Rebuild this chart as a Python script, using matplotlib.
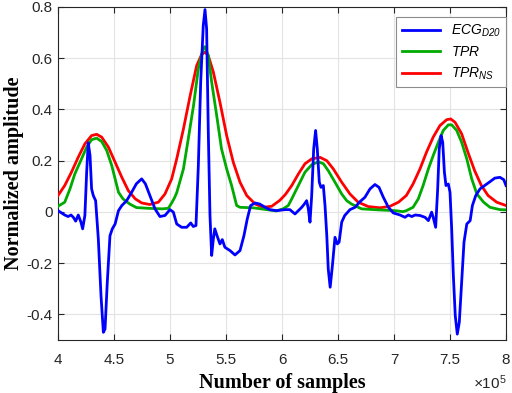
import numpy as np
import matplotlib
matplotlib.use("Agg")
import matplotlib.pyplot as plt
from matplotlib.ticker import FuncFormatter

plt.rcParams['font.family'] = ['Liberation Sans', 'DejaVu Sans']
plt.rcParams['mathtext.fontset'] = 'custom'
plt.rcParams['mathtext.it'] = 'Liberation Sans:italic'
plt.rcParams['mathtext.rm'] = 'Liberation Sans:italic'
plt.rcParams['mathtext.default'] = 'it'

# ====== data (x in units of 1e5 samples) ======
ecg_x = [4.00, 4.06, 4.09, 4.116, 4.137, 4.158, 4.181, 4.205, 4.22, 4.24, 4.256, 4.27,
         4.286, 4.30, 4.315, 4.336, 4.36, 4.384, 4.405, 4.42, 4.44, 4.464, 4.485, 4.51,
         4.54, 4.57, 4.613, 4.658, 4.70, 4.747, 4.78, 4.82, 4.866, 4.91, 4.955, 5.0,
         5.03, 5.06, 5.104, 5.149, 5.185, 5.208, 5.232, 5.253, 5.274, 5.297, 5.3125,
         5.327, 5.342, 5.357, 5.372, 5.387, 5.40, 5.42, 5.446, 5.467, 5.49, 5.536, 5.58,
         5.625, 5.66, 5.69, 5.72, 5.76, 5.80, 5.85, 5.89, 5.95, 6.03, 6.07, 6.116, 6.146,
         6.176, 6.20, 6.22, 6.235, 6.25, 6.265, 6.283, 6.30, 6.315, 6.333, 6.348, 6.369,
         6.384, 6.40, 6.413, 6.43, 6.45, 6.473, 6.494, 6.51, 6.533, 6.56, 6.607, 6.652,
         6.696, 6.74, 6.786, 6.83, 6.866, 6.905, 6.95, 6.994, 7.054, 7.098, 7.128, 7.158,
         7.19, 7.232, 7.277, 7.307, 7.336, 7.35, 7.372, 7.39, 7.404, 7.42, 7.435, 7.45,
         7.464, 7.485, 7.50, 7.515, 7.53, 7.547, 7.565, 7.583, 7.604, 7.625, 7.65, 7.68,
         7.70, 7.73, 7.768, 7.81, 7.857, 7.90, 7.946, 7.98, 8.0]
ecg_y = [0.005, -0.012, -0.018, -0.012, -0.021, -0.036, -0.012, -0.04, -0.066, -0.014,
         0.156, 0.27, 0.22, 0.09, 0.064, 0.044, -0.105, -0.327, -0.47, -0.457, -0.275,
         -0.093, -0.066, -0.047, 0.005, 0.025, 0.044, 0.077, 0.11, 0.129, 0.11, 0.064,
         0.012, -0.018, -0.014, 0.009, -0.001, -0.047, -0.06, -0.06, -0.043, -0.057,
         -0.053, 0.18, 0.507, 0.728, 0.79, 0.715, 0.311, -0.014, -0.17, -0.105, -0.066,
         -0.093, -0.125, -0.108, -0.138, -0.151, -0.168, -0.151, -0.093, -0.027, 0.025,
         0.035, 0.031, 0.018, 0.009, 0.005, 0.009, 0.009, -0.008, 0.005, 0.018, 0.031,
         0.044, 0.012, -0.04, 0.064, 0.246, 0.318, 0.246, 0.116, 0.096, 0.103, 0.025,
         -0.093, -0.223, -0.294, -0.21, -0.099, -0.125, -0.118, -0.04, -0.014, 0.009,
         0.018, 0.04, 0.057, 0.09, 0.107, 0.096, 0.057, 0.018, -0.004, -0.012, -0.021,
         -0.012, -0.018, -0.012, -0.014, -0.021, -0.034, -0.001, -0.021, -0.06, 0.09,
         0.246, 0.298, 0.272, 0.155, 0.103, 0.109, 0.077, -0.066, -0.249, -0.405, -0.477,
         -0.431, -0.275, -0.118, -0.047, -0.034, 0.025, 0.064, 0.09, 0.103, 0.118, 0.132,
         0.135, 0.126, 0.103]

tpr_x = [4.00, 4.06, 4.107, 4.15, 4.21, 4.256, 4.30, 4.345, 4.39, 4.435, 4.48, 4.51, 4.54,
         4.58, 4.64, 4.70, 4.81, 4.93, 4.985, 5.015, 5.04, 5.06, 5.12, 5.163, 5.21, 5.253,
         5.297, 5.31, 5.342, 5.372, 5.417, 5.46, 5.506, 5.55, 5.595, 5.625, 5.744, 5.863,
         5.95, 6.01, 6.056, 6.087, 6.146, 6.205, 6.265, 6.324, 6.37, 6.413, 6.473, 6.533,
         6.578, 6.62, 6.71, 6.86, 7.01, 7.08, 7.11, 7.17, 7.217, 7.26, 7.307, 7.35, 7.396,
         7.44, 7.485, 7.515, 7.56, 7.604, 7.65, 7.694, 7.74, 7.80, 7.857, 7.946, 8.0]
tpr_y = [0.022, 0.038, 0.09, 0.148, 0.207, 0.253, 0.282, 0.288, 0.275, 0.24, 0.181, 0.129,
         0.077, 0.051, 0.031, 0.017, 0.014, 0.012, 0.014, 0.035, 0.055, 0.075, 0.168,
         0.285, 0.415, 0.559, 0.64, 0.645, 0.61, 0.507, 0.376, 0.246, 0.168, 0.103, 0.025,
         0.018, 0.016, 0.009, 0.004, 0.012, 0.025, 0.051, 0.103, 0.155, 0.184, 0.196, 0.188,
         0.161, 0.116, 0.07, 0.044, 0.031, 0.012, 0.008, 0.005, 0.001, 0.005, 0.018, 0.051,
         0.103, 0.168, 0.22, 0.272, 0.318, 0.34, 0.34, 0.318, 0.272, 0.207, 0.129, 0.07,
         0.038, 0.018, 0.009, 0.008]

tprns_x = [4.00, 4.06, 4.12, 4.18, 4.24, 4.30, 4.345, 4.39, 4.45, 4.51, 4.57, 4.628, 4.69,
           4.747, 4.82, 4.896, 4.955, 5.015, 5.06, 5.12, 5.18, 5.238, 5.283, 5.3125, 5.342,
           5.387, 5.446, 5.506, 5.565, 5.625, 5.685, 5.76, 5.83, 5.908, 5.98, 6.03, 6.087,
           6.146, 6.205, 6.265, 6.34, 6.40, 6.458, 6.533, 6.607, 6.68, 6.77, 6.875, 6.964,
           7.04, 7.11, 7.17, 7.232, 7.29, 7.35, 7.41, 7.47, 7.506, 7.545, 7.604, 7.66, 7.72,
           7.78, 7.84, 7.917, 8.0]
tprns_y = [0.064, 0.103, 0.155, 0.213, 0.266, 0.298, 0.303, 0.292, 0.253, 0.194, 0.135,
           0.083, 0.051, 0.035, 0.029, 0.038, 0.07, 0.129, 0.207, 0.324, 0.454, 0.571,
           0.615, 0.624, 0.61, 0.546, 0.428, 0.298, 0.194, 0.116, 0.064, 0.031, 0.018,
           0.022, 0.045, 0.068, 0.103, 0.148, 0.188, 0.207, 0.213, 0.2, 0.168, 0.116, 0.07,
           0.038, 0.021, 0.016, 0.022, 0.038, 0.064, 0.109, 0.168, 0.233, 0.292, 0.337, 0.36,
           0.363, 0.35, 0.305, 0.233, 0.161, 0.103, 0.064, 0.038, 0.025]

x_ticks = [4, 4.5, 5, 5.5, 6, 6.5, 7, 7.5, 8]
y_ticks = [-0.4, -0.2, 0, 0.2, 0.4, 0.6, 0.8]

# ====== plot ======
fig = plt.figure(figsize=(5.12, 3.93), dpi=100)
ax = fig.add_axes([58 / 512, 53 / 393, 448 / 512, 333 / 393])

scale = 1e5
ax.plot(np.array(tprns_x) * scale, tprns_y, color='#ff0000', lw=2, zorder=3, label=r'$TPR_{NS}$')
ax.plot(np.array(tpr_x) * scale, tpr_y, color='#00aa00', lw=2, zorder=4, label=r'$TPR$')
ax.plot(np.array(ecg_x) * scale, ecg_y, color='#0000ff', lw=2, zorder=5, label=r'$ECG_{D20}$')

ax.set_xlim(4e5, 8e5)
ax.set_ylim(-0.5, 0.8)
ax.set_xticks([t * scale for t in x_ticks])
ax.set_yticks(y_ticks)
ax.xaxis.set_major_formatter(FuncFormatter(lambda v, p: f"{v / scale:g}"))
ax.yaxis.set_major_formatter(FuncFormatter(lambda v, p: f"{v:g}"))

ax.grid(True, color='#e3e3e3', lw=0.8)
ax.set_axisbelow(True)
ax.tick_params(direction='in', length=4, width=0.8, top=True, right=True,
               labelsize=11, colors='#262626')
ax.tick_params(axis='x', pad=9)
ax.tick_params(axis='y', pad=4)
for s in ax.spines.values():
    s.set_color('#262626')
    s.set_linewidth(0.8)

ax.set_xlabel("Number of samples", family=['Liberation Serif'], fontweight='bold',
              fontsize=14.5, labelpad=5)
ax.set_ylabel("Normalized amplitude", family=['Liberation Serif'], fontweight='bold',
              fontsize=14.5, labelpad=2)
ax.text(1.0, -0.1, r'$\times\mathregular{10^5}$', transform=ax.transAxes,
        ha='right', va='top', fontsize=11, color='#262626')

h, l = ax.get_legend_handles_labels()
leg = ax.legend(h[::-1], l[::-1], loc='upper right', bbox_to_anchor=(1.0, 0.97),
                borderaxespad=0, fontsize=10, handlelength=2.7, fancybox=False,
                framealpha=1, edgecolor='#8c8c8c', labelspacing=0.45)
leg.get_frame().set_linewidth(0.8)

plt.savefig("out.png", dpi=100)
